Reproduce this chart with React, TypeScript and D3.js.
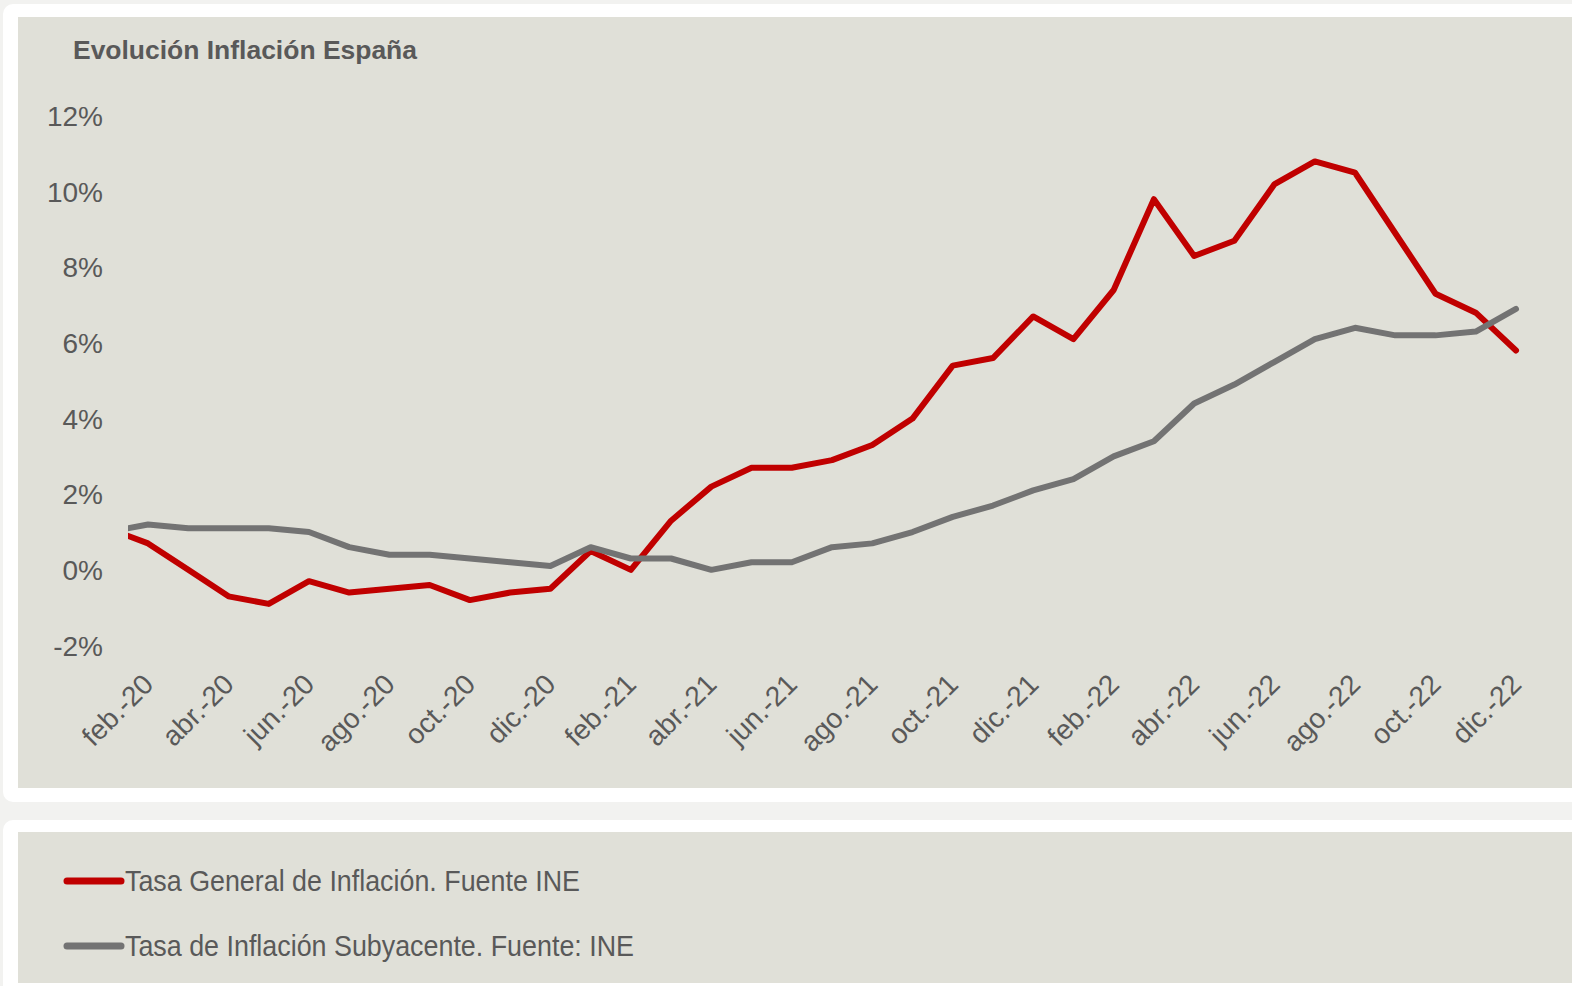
import React, { useEffect, useRef } from 'react';
import * as d3 from 'd3';

// monthly data jan-20 .. dic-22 (the plot is clipped half a month before feb-20)
const months = [
  'ene.-20', 'feb.-20', 'mar.-20', 'abr.-20', 'may.-20', 'jun.-20', 'jul.-20', 'ago.-20', 'sep.-20', 'oct.-20', 'nov.-20', 'dic.-20',
  'ene.-21', 'feb.-21', 'mar.-21', 'abr.-21', 'may.-21', 'jun.-21', 'jul.-21', 'ago.-21', 'sep.-21', 'oct.-21', 'nov.-21', 'dic.-21',
  'ene.-22', 'feb.-22', 'mar.-22', 'abr.-22', 'may.-22', 'jun.-22', 'jul.-22', 'ago.-22', 'sep.-22', 'oct.-22', 'nov.-22', 'dic.-22',
];

const general = [
  1.1, 0.7, 0.0, -0.7, -0.9, -0.3, -0.6, -0.5, -0.4, -0.8, -0.6, -0.5,
  0.5, 0.0, 1.3, 2.2, 2.7, 2.7, 2.9, 3.3, 4.0, 5.4, 5.6, 6.7,
  6.1, 7.4, 9.8, 8.3, 8.7, 10.2, 10.8, 10.5, 8.9, 7.3, 6.8, 5.8,
];

const subyacente = [
  1.0, 1.2, 1.1, 1.1, 1.1, 1.0, 0.6, 0.4, 0.4, 0.3, 0.2, 0.1,
  0.6, 0.3, 0.3, 0.0, 0.2, 0.2, 0.6, 0.7, 1.0, 1.4, 1.7, 2.1,
  2.4, 3.0, 3.4, 4.4, 4.9, 5.5, 6.1, 6.4, 6.2, 6.2, 6.3, 6.9,
];

const yTicks = [-2, 0, 2, 4, 6, 8, 10, 12];

const seriesNames = ['Tasa General de Inflación. Fuente INE', 'Tasa de Inflación Subyacente. Fuente: INE'];
const seriesColors = ['#c00000', '#737373'];

const W = 1572;
const H = 986;
const FONT = 'Liberation Sans, Arial, sans-serif';
const TEXT = '#595959';

export default function App() {
  const ref = useRef<SVGSVGElement>(null);

  useEffect(() => {
    document.body.style.margin = '0';
    const svg = d3.select(ref.current);
    svg.selectAll('*').remove();

    svg.append('rect').attr('width', W).attr('height', H).attr('fill', '#f2f2f0');

    // top card
    svg.append('rect').attr('x', 3).attr('y', 4).attr('width', W + 20).attr('height', 798)
      .attr('rx', 10).attr('fill', '#ffffff');
    svg.append('rect').attr('x', 18).attr('y', 17).attr('width', W).attr('height', 771).attr('fill', '#e0e0d8');

    // bottom card
    svg.append('rect').attr('x', 3).attr('y', 820).attr('width', W + 20).attr('height', 200)
      .attr('rx', 10).attr('fill', '#ffffff');
    svg.append('rect').attr('x', 18).attr('y', 832).attr('width', W).attr('height', 151).attr('fill', '#e0e0d8');

    svg.append('text')
      .attr('x', 73).attr('y', 59)
      .attr('font-family', FONT).attr('font-size', 25).attr('font-weight', 'bold')
      .attr('fill', TEXT)
      .attr('textLength', 344)
      .attr('lengthAdjust', 'spacingAndGlyphs')
      .text('Evolución Inflación España');

    const x = d3.scaleLinear().domain([0, months.length - 1]).range([107.8, 1516]);
    const y = d3.scaleLinear().domain([-2, 12]).range([645.5, 116]);

    // y labels
    svg.append('g').selectAll('text').data(yTicks).enter().append('text')
      .attr('x', 103).attr('y', d => y(d))
      .attr('dy', '0.36em')
      .attr('text-anchor', 'end')
      .attr('font-family', FONT).attr('font-size', 28)
      .attr('fill', TEXT)
      .text(d => d + '%');

    // x labels every two months from feb.-20
    const idx = months.map((_, i) => i).filter(i => i % 2 === 1);
    svg.append('g').selectAll('text').data(idx).enter().append('text')
      .attr('transform', i => `translate(${x(i) + 7},${686}) rotate(-45)`)
      .attr('text-anchor', 'end')
      .attr('font-family', FONT).attr('font-size', 28)
      .attr('fill', TEXT)
      .text(i => months[i]);

    svg.append('clipPath').attr('id', 'plotclip')
      .append('rect').attr('x', x(0.5)).attr('y', 20).attr('width', 1500).attr('height', 700);

    const line = d3.line<number>().x((_, i) => x(i)).y(d => y(d));
    const plot = svg.append('g').attr('clip-path', 'url(#plotclip)');
    [general, subyacente].forEach((s, k) => {
      plot.append('path')
        .attr('d', line(s))
        .attr('fill', 'none')
        .attr('stroke', seriesColors[k])
        .attr('stroke-width', 6)
        .attr('stroke-linejoin', 'round')
        .attr('stroke-linecap', 'round');
    });

    // legend
    const leg = svg.append('g');
    seriesNames.forEach((name, k) => {
      const ly = 881 + k * 65;
      leg.append('line')
        .attr('x1', 67).attr('x2', 121).attr('y1', ly).attr('y2', ly)
        .attr('stroke', seriesColors[k]).attr('stroke-width', 7).attr('stroke-linecap', 'round');
      leg.append('text')
        .attr('x', 125).attr('y', ly + 10)
        .attr('font-family', 'Liberation Sans Narrow, Arial Narrow, Liberation Sans, sans-serif')
        .attr('font-size', 30)
        .attr('fill', TEXT)
        .attr('textLength', k === 0 ? 455 : 509)
        .attr('lengthAdjust', 'spacingAndGlyphs')
        .text(name);
    });
  }, []);

  return <svg ref={ref} width={W} height={H} style={{ display: 'block' }} />;
}
